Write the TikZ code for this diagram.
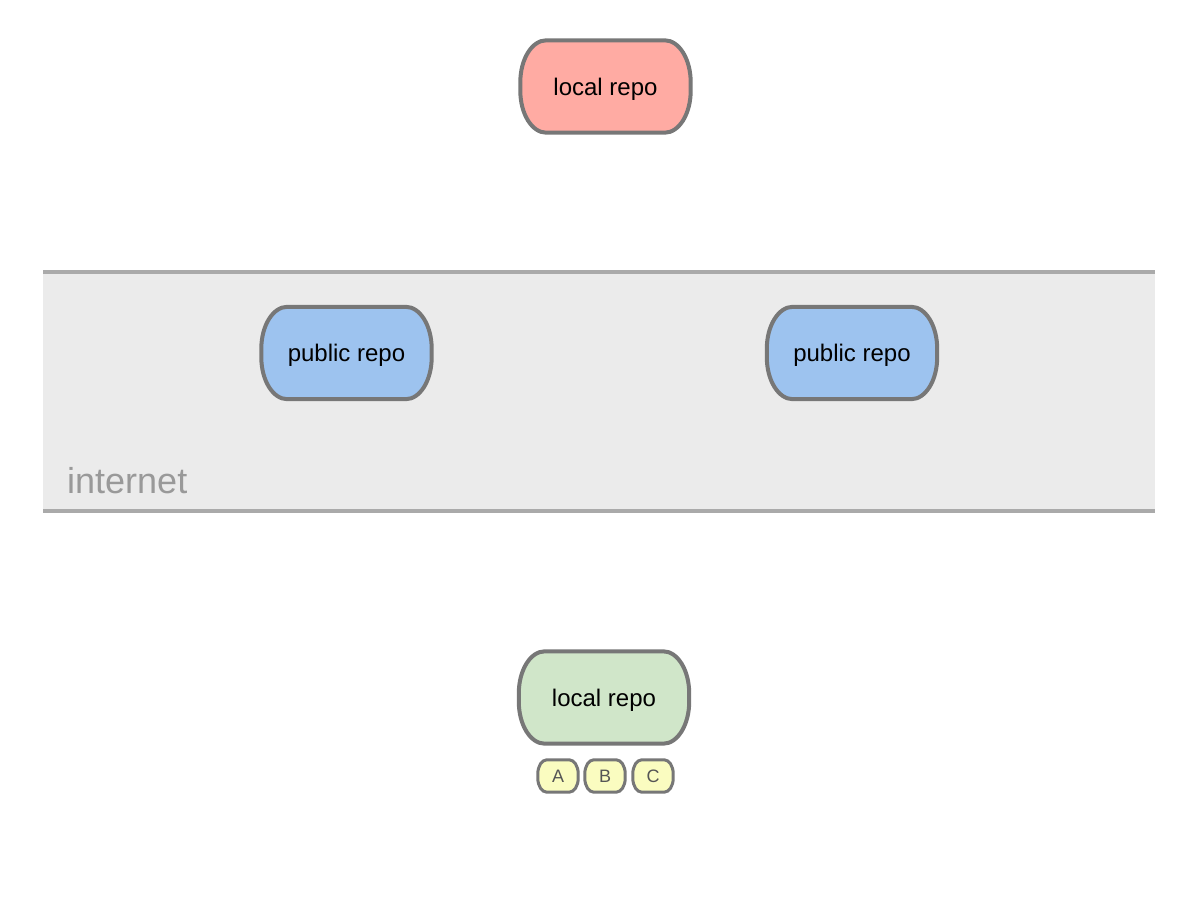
\documentclass[tikz,border=0pt]{standalone}
\usepackage{fontspec}
\setmainfont{Liberation Sans}
\usetikzlibrary{calc}
\definecolor{edgegray}{HTML}{777777}
\definecolor{bandfill}{HTML}{EBEBEB}
\definecolor{bandline}{HTML}{AAAAAA}
\definecolor{pinkfill}{HTML}{FFABA3}
\definecolor{bluefill}{HTML}{9DC3EF}
\definecolor{greenfill}{HTML}{D0E6C9}
\definecolor{yellowfill}{HTML}{FAFCC0}
\definecolor{labelgray}{HTML}{999999}
\definecolor{smalltext}{HTML}{555555}
\tikzset{
  repo/.style={minimum width=170pt, minimum height=92pt, inner sep=0pt,
    text depth=0pt, font=\fontsize{24}{28}\selectfont},
  pilledge/.style={draw=edgegray, line width=4pt},
  commitedge/.style={draw=edgegray, line width=3pt, fill=yellowfill},
  commit/.style={minimum width=40pt, minimum height=32pt, inner sep=0pt,
    text=smalltext, text depth=0pt, font=\fontsize{18}{20}\selectfont},
}
% #1 node name, #2 rx, #3 ry, #4 path options
\newcommand{\pillpath}[4]{%
  \path[#4]
    ($(#1.north west)+(#2,0)$) -- ($(#1.north east)+(-#2,0)$)
    .. controls +({0.5523*#2},0) and +(0,{-0.5523*#3}) .. ($(#1.north east)+(0,#3)$)
    -- ($(#1.south east)+(0,-#3)$)
    .. controls +(0,{0.5523*#3}) and +({0.5523*#2},0) .. ($(#1.south east)+(-#2,0)$)
    -- ($(#1.south west)+(#2,0)$)
    .. controls +({-0.5523*#2},0) and +(0,{0.5523*#3}) .. ($(#1.south west)+(0,-#3)$)
    -- ($(#1.north west)+(0,#3)$)
    .. controls +(0,{-0.5523*#3}) and +({-0.5523*#2},0) .. ($(#1.north west)+(#2,0)$)
    -- cycle;}
\begin{document}
\begin{tikzpicture}[x=1pt,y=-1pt]
\useasboundingbox (0,0) rectangle (1200,900);
\fill[bandfill] (43,272) rectangle (1155,511);
\draw[bandline, line width=4pt] (43,272) -- (1155,272);
\draw[bandline, line width=4pt] (43,511) -- (1155,511);
\node[anchor=base west, text=labelgray, font=\fontsize{36}{40}\selectfont, inner sep=0pt] (inet) at (67,493) {internet};
\node[repo] (top) at (605.5,86.5) {};
\node[repo] (publ) at (346.5,353) {};
\node[repo] (pubr) at (852,353) {};
\node[repo] (bot) at (604,697.5) {};
\pillpath{top}{26}{42}{pilledge, fill=pinkfill}
\pillpath{publ}{26}{42}{pilledge, fill=bluefill}
\pillpath{pubr}{26}{42}{pilledge, fill=bluefill}
\pillpath{bot}{26}{42}{pilledge, fill=greenfill}
\node[repo] at (top.center) {local repo};
\node[repo] at (publ.center) {public repo};
\node[repo] at (pubr.center) {public repo};
\node[repo] at (bot.center) {local repo};
\node[commit] (ca) at (558,776) {};
\node[commit] (cb) at (605,776) {};
\node[commit] (cc) at (653,776) {};
\pillpath{ca}{9}{14}{commitedge}
\pillpath{cb}{9}{14}{commitedge}
\pillpath{cc}{9}{14}{commitedge}
\node[commit] at (ca.center) {A};
\node[commit] at (cb.center) {B};
\node[commit] at (cc.center) {C};
\end{tikzpicture}
\end{document}
